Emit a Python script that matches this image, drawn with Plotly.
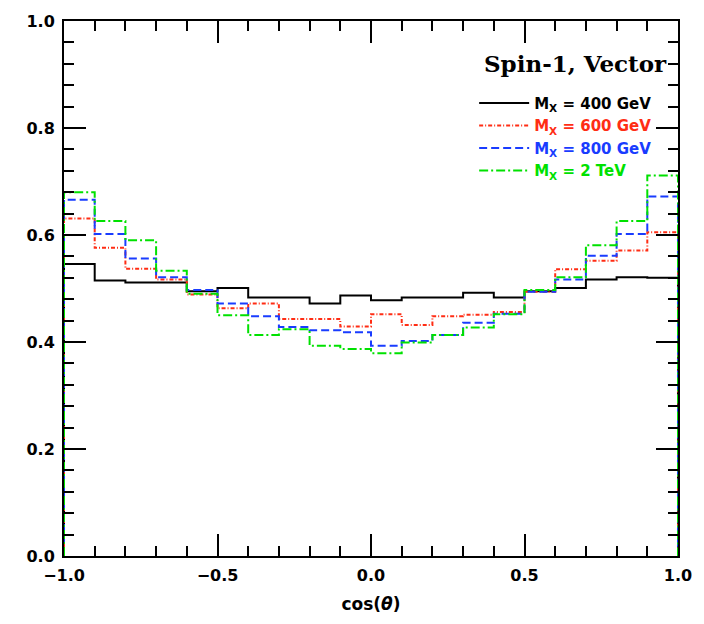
import plotly.graph_objects as go

# Bin edges of cos(theta): 20 bins of width 0.1 over [-1, 1]
bin_edges = [round(-1.0 + 0.1 * i, 1) for i in range(21)]

# Normalised angular distributions for the spin-1 vector resonance
m400 = [0.546, 0.515, 0.511, 0.511, 0.495, 0.501, 0.483, 0.483, 0.472, 0.487,
        0.478, 0.483, 0.483, 0.492, 0.483, 0.495, 0.501, 0.517, 0.521, 0.520]
m600 = [0.631, 0.576, 0.537, 0.517, 0.489, 0.463, 0.472, 0.443, 0.443, 0.429,
        0.452, 0.432, 0.448, 0.451, 0.456, 0.494, 0.536, 0.552, 0.571, 0.605]
m800 = [0.666, 0.602, 0.556, 0.521, 0.497, 0.472, 0.448, 0.428, 0.422, 0.418,
        0.393, 0.402, 0.413, 0.436, 0.453, 0.494, 0.517, 0.561, 0.602, 0.672]
m2tev = [0.680, 0.626, 0.590, 0.533, 0.490, 0.450, 0.413, 0.424, 0.393, 0.387,
         0.379, 0.399, 0.413, 0.427, 0.452, 0.497, 0.521, 0.581, 0.626, 0.711]

series_labels = ["400 GeV", "600 GeV", "800 GeV", "2 TeV"]
series_values = [m400, m600, m800, m2tev]
series_colors = ["#000000", "rgb(255,45,20)", "rgb(25,60,255)", "rgb(0,225,0)"]
series_dashes = ["solid", "4px,2px,1px,2px", "8px,4px", "9px,3px,2px,3px"]

x_ticks = [-1.0, -0.5, 0.0, 0.5, 1.0]
x_tick_text = ["−1.0", "−0.5", "0.0", "0.5", "1.0"]
y_ticks = [0.0, 0.2, 0.4, 0.6, 0.8, 1.0]
y_tick_text = ["0.0", "0.2", "0.4", "0.6", "0.8", "1.0"]

fig = go.Figure()
for label, vals, color, dash in zip(series_labels, series_values, series_colors, series_dashes):
    # closed histogram outline: rise from zero at -1, steps, drop back to zero at +1
    xs = [bin_edges[0]] + bin_edges[:-1] + [bin_edges[-1], bin_edges[-1]]
    ys = [0.0] + vals + [vals[-1], 0.0]
    fig.add_trace(go.Scatter(
        x=xs, y=ys, mode="lines", line_shape="hv",
        line=dict(color=color, width=2, dash=dash),
        name=f"<span style='color:{color}'><b>M<sub>X</sub> = {label}</b></span>",
    ))

axis_font = dict(family="DejaVu Sans", size=16, color="black")

fig.update_layout(
    width=704, height=624,
    margin=dict(l=64, r=18, t=19, b=68),
    paper_bgcolor="white", plot_bgcolor="white",
    showlegend=True,
    legend=dict(
        x=0.668, y=0.877, xanchor="left", yanchor="top",
        bgcolor="rgba(0,0,0,0)", borderwidth=0,
        font=dict(family="DejaVu Sans", size=15, color="black"),
        tracegroupgap=0, itemwidth=50,
    ),
    annotations=[dict(
        x=0.985, y=0.92, xref="paper", yref="paper", xanchor="right", yanchor="middle",
        text="<b>Spin-1, Vector</b>", showarrow=False,
        font=dict(family="DejaVu Serif", size=23, color="black"),
    )],
)

fig.update_xaxes(
    range=[-1.0, 1.0], tickmode="array",
    tickvals=x_ticks, ticktext=[f"<b>{t}</b>" for t in x_tick_text],
    ticks="inside", ticklen=22, tickwidth=2, tickcolor="black",
    minor=dict(dtick=0.1, ticks="inside", ticklen=10, tickwidth=2, tickcolor="black", showgrid=False),
    showline=True, linewidth=2, linecolor="black", mirror="ticks",
    showgrid=False, zeroline=False, tickfont=axis_font, ticklabelstandoff=4,
    title=dict(text="<b>cos(<i>θ</i>)</b>", font=dict(family="DejaVu Sans", size=17, color="black"), standoff=14),
)
fig.update_yaxes(
    range=[0.0, 1.0], tickmode="array",
    tickvals=y_ticks, ticktext=[f"<b>{t}</b>" for t in y_tick_text],
    ticks="inside", ticklen=22, tickwidth=2, tickcolor="black",
    minor=dict(dtick=0.04, ticks="inside", ticklen=10, tickwidth=2, tickcolor="black", showgrid=False),
    showline=True, linewidth=2, linecolor="black", mirror="ticks",
    showgrid=False, zeroline=False, tickfont=axis_font, ticklabelstandoff=4,
)

fig.write_html("out.html")
